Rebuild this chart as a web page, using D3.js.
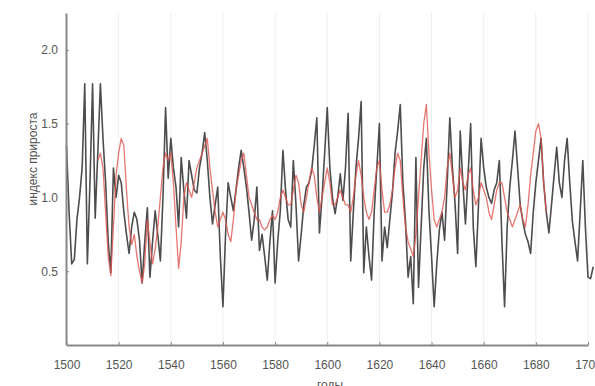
<!DOCTYPE html>
<html>
<head>
<meta charset="utf-8">
<script src="https://cdn.jsdelivr.net/npm/d3@7"></script>
<style>
    body { margin: 0; background: #fff; }
    .axis text { font-family: "Liberation Sans", Arial, sans-serif; font-size: 12px; fill: #555; }
    .axis path, .axis line { stroke: #888; }
    .label { font-family: "Liberation Sans", Arial, sans-serif; font-size: 12px; fill: #555; }
</style>
</head>
<body>
<div id="chart"></div>
<script>
// годичный индекс прироста, первая серия (серая), 1500-1702
var gray_start = 1500;
var gray_values = [
    1.35, 0.90, 0.55, 0.58, 0.85, 1.00, 1.20, 1.77, 0.55, 1.10,
    1.77, 0.86, 1.30, 1.77, 1.40, 1.10, 0.70, 0.49, 1.20, 1.00,
    1.15, 1.10, 0.90, 0.75, 0.62, 0.80, 0.90, 0.85, 0.71, 0.42,
    0.70, 0.93, 0.46, 0.70, 0.91, 0.75, 0.57, 1.00, 1.61, 1.13,
    1.40, 1.20, 1.07, 0.80, 1.27, 1.05, 0.86, 1.25, 1.15, 1.05,
    1.03, 1.20, 1.30, 1.44, 1.25, 1.00, 0.82, 0.95, 1.07, 0.60,
    0.26, 0.75, 1.10, 1.00, 0.91, 1.05, 1.20, 1.32, 1.20, 1.07,
    0.90, 0.71, 0.85, 1.07, 0.64, 0.75, 0.60, 0.44, 0.70, 0.91,
    0.42, 0.70, 0.91, 1.32, 1.05, 0.85, 0.80, 1.25, 0.95, 0.57,
    0.75, 0.95, 1.07, 1.10, 1.18, 1.35, 1.54, 0.76, 1.00, 1.30,
    1.61, 1.20, 1.00, 0.89, 1.00, 1.16, 0.98, 1.20, 1.57, 0.57,
    0.90, 1.20, 1.40, 1.65, 0.49, 0.80, 0.60, 0.44, 0.90, 1.20,
    1.50, 0.57, 0.80, 0.66, 0.85, 1.03, 1.30, 1.45, 1.63, 1.10,
    0.84, 0.46, 0.60, 0.28, 1.27, 0.39, 0.80, 1.20, 1.40, 0.91,
    0.60, 0.26, 0.55, 0.78, 0.90, 0.71, 1.10, 1.54, 1.20, 0.96,
    0.62, 1.45, 1.10, 0.82, 1.15, 1.50, 0.80, 0.53, 0.95, 1.40,
    1.20, 1.07, 1.00, 0.96, 1.05, 1.10, 1.25, 0.70, 0.26, 0.80,
    1.07, 1.25, 1.45, 1.20, 0.95, 0.84, 0.75, 0.70, 0.62, 0.90,
    1.10, 1.25, 1.40, 1.10, 0.90, 0.76, 0.95, 1.15, 1.34, 1.10,
    1.00, 1.25, 1.40, 1.10, 0.84, 0.70, 0.57, 0.90, 1.25, 0.80,
    0.46, 0.45, 0.53
];

// вторая серия (красная), 1512-1684
var red_start = 1512;
var red_values = [
                1.25, 1.30, 1.20, 0.90, 0.60, 0.47, 0.80, 1.15,
    1.30, 1.40, 1.35, 1.05, 0.80, 0.68, 0.75, 0.60, 0.50, 0.42,
    0.55, 0.85, 0.70, 0.55, 0.65, 0.80, 1.00, 1.20, 1.30, 1.25,
    1.30, 1.10, 0.80, 0.52, 0.70, 1.00, 1.10, 1.05, 1.00, 1.10,
    1.20, 1.25, 1.30, 1.35, 1.40, 1.20, 1.05, 0.90, 0.80, 0.85,
    0.90, 0.85, 0.75, 0.70, 0.85, 1.05, 1.15, 1.25, 1.30, 1.15,
    1.00, 0.95, 0.90, 0.85, 0.85, 0.80, 0.78, 0.80, 0.85, 0.88,
    0.85, 0.90, 1.00, 1.05, 1.00, 0.95, 0.95, 1.05, 1.15, 1.10,
    0.95, 0.90, 1.00, 1.10, 1.20, 1.15, 1.00, 0.90, 1.00, 1.10,
    1.20, 1.10, 0.95, 0.95, 1.00, 1.05, 1.00, 0.95, 0.95, 0.90,
    1.00, 1.15, 1.25, 1.15, 1.00, 0.90, 0.85, 0.90, 1.05, 1.20,
    1.25, 1.05, 0.90, 0.90, 0.95, 1.05, 1.20, 1.30, 1.25, 1.00,
    0.80, 0.70, 0.65, 0.60, 0.75, 1.00, 1.25, 1.50, 1.63, 1.30,
    1.05, 0.85, 0.80, 0.85, 0.90, 1.00, 1.20, 1.30, 1.15, 1.00,
    1.05, 1.20, 1.10, 1.05, 1.15, 1.20, 1.05, 0.95, 1.00, 1.10,
    1.05, 1.00, 0.90, 0.85, 0.95, 1.05, 1.10, 1.10, 1.00, 0.90,
    0.85, 0.80, 0.85, 0.90, 0.95, 0.85, 0.80, 0.95, 1.15, 1.30,
    1.45, 1.50, 1.40, 1.10, 0.90
];

var x_ticks = [1500, 1520, 1540, 1560, 1580, 1600, 1620, 1640, 1660, 1680, 1700];
var y_ticks = [0.5, 1.0, 1.5, 2.0];

var margins = {top: 13, right: 7, bottom: 41, left: 66},
    width = 595 - margins.left - margins.right,
    height = 386 - margins.top - margins.bottom;

var gray = gray_values.map(function(v, i) { return {year: gray_start + i, value: v}; });
var red = red_values.map(function(v, i) { return {year: red_start + i, value: v}; });

var x = d3.scaleLinear()
    .domain([1500, 1700])
    .range([0.5, 522]);

var y = d3.scaleLinear()
    .domain([0, 2.25])
    .range([height, 0]);

var svg = d3.select("#chart").append("svg")
    .attr("width", 595)
    .attr("height", 386)
    .style("overflow", "hidden");

var g = svg.append("g")
    .attr("transform", "translate(" + margins.left + "," + margins.top + ")");

// бледная сетка
g.append("g")
    .selectAll("line")
    .data(x_ticks.slice(1))
    .enter().append("line")
    .attr("x1", function(d) { return x(d); })
    .attr("x2", function(d) { return x(d); })
    .attr("y1", 0)
    .attr("y2", height)
    .attr("stroke", "#eee");

var line = d3.line()
    .x(function(d) { return x(d.year); })
    .y(function(d) { return y(d.value); });

g.append("path")
    .datum(gray)
    .attr("fill", "none")
    .attr("stroke", "#4d4d4d")
    .attr("stroke-width", 1.6)
    .attr("stroke-linejoin", "round")
    .attr("d", line);

g.append("path")
    .datum(red)
    .attr("fill", "none")
    .attr("stroke", "#e0544e")
    .attr("stroke-width", 1.3)
    .attr("stroke-opacity", 0.8)
    .attr("stroke-linejoin", "round")
    .attr("d", line);

var xAxis = d3.axisBottom(x)
    .tickValues(x_ticks)
    .tickFormat(d3.format("d"))
    .tickSizeInner(-3)
    .tickSizeOuter(0)
    .tickPadding(15);

var yAxis = d3.axisLeft(y)
    .tickValues(y_ticks)
    .tickFormat(d3.format(".1f"))
    .tickSizeInner(-3)
    .tickSizeOuter(0)
    .tickPadding(8);

g.append("g")
    .attr("class", "x axis")
    .attr("transform", "translate(0," + height + ")")
    .call(xAxis)
    .select(".domain")
    .attr("stroke-width", 2);

g.append("g")
    .attr("class", "y axis")
    .call(yAxis)
    .select(".domain")
    .attr("stroke-width", 2);

svg.append("text")
    .attr("class", "label")
    .attr("transform", "translate(37,159) rotate(-90)")
    .attr("text-anchor", "middle")
    .text("индекс прироста");

svg.append("text")
    .attr("class", "label")
    .attr("x", 330)
    .attr("y", 389)
    .attr("text-anchor", "middle")
    .text("годы");
</script>
</body>
</html>
